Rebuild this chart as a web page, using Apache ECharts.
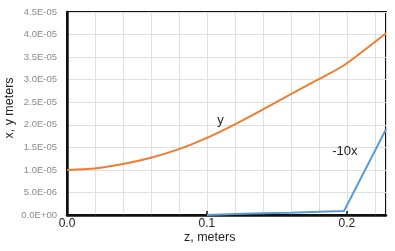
<!DOCTYPE html>
<html><head><meta charset="utf-8">
<script src="https://cdn.jsdelivr.net/npm/echarts@6/dist/echarts.min.js"></script>
<style>html,body{margin:0;padding:0;background:#fff}#c{width:395px;height:251px}</style>
</head><body><div id="c"></div>
<script>
// z positions (meters)
var zValues = [0, 0.02, 0.04, 0.06, 0.08, 0.1, 0.12, 0.14, 0.16, 0.18, 0.198, 0.228];
// y (meters)
var yValues = [1.0e-5, 1.03e-5, 1.13e-5, 1.27e-5, 1.46e-5, 1.71e-5, 2.01e-5, 2.34e-5, 2.68e-5, 3.01e-5, 3.32e-5, 4.03e-5];
// -10x (meters); not drawn before z = 0.1
var negTenX = [null, null, null, null, null, 0, 0.02e-5, 0.04e-5, 0.05e-5, 0.07e-5, 0.09e-5, 1.9e-5];
var xTickLabels = ['0.0', '0.1', '0.2'];
var yName = 'x, y meters';
var xName = 'z, meters';
var curveLabels = [{text: 'y', z: 0.1098, v: 2.1e-5}, {text: '-10x', z: 0.1986, v: 1.42e-5}];

function pairs(xs, ys){ return xs.map(function(x,i){ return [x, ys[i]]; }).filter(function(p){ return p[1] !== null; }); }
function sci(v){
  if (Math.abs(v) < 1e-12) return '0.0E+00';
  var s = v.toExponential(1).split('e');
  var e = parseInt(s[1], 10);
  var sign = e < 0 ? '-' : '+';
  var a = Math.abs(e);
  return s[0] + 'E' + sign + (a < 10 ? '0' + a : a);
}
var font = 'Liberation Sans, Arial, sans-serif';
var chart = echarts.init(document.getElementById('c'), null, {renderer: 'canvas'});
chart.setOption({
  animation: false,
  grid: {left: 67, top: 12, right: 9, bottom: 36, show: true, borderColor: '#111', borderWidth: 2, backgroundColor: 'transparent'},
  xAxis: [{
    type: 'value', min: 0, max: 0.228, interval: 0.02, position: 'bottom',
    axisLine: {show: true, onZero: false, lineStyle: {color: '#111', width: 2.5}},
    axisTick: {show: false},
    axisLabel: {show: false},
    splitLine: {show: true, lineStyle: {color: '#e0e0e0', width: 1}}
  }, {
    type: 'value', min: 0, max: 0.228, interval: 0.1, position: 'bottom', offset: 0,
    axisLine: {show: false},
    axisTick: {show: true, inside: true, length: 4, lineStyle: {color: '#111', width: 1.5}},
    axisLabel: {show: true, margin: 3, fontSize: 12, color: '#222', fontFamily: font, showMaxLabel: false,
      formatter: function(v){ var i = Math.round(v / 0.1); return Math.abs(v - i * 0.1) < 1e-9 ? (xTickLabels[i] || '') : ''; }},
    splitLine: {show: false}
  }],
  yAxis: {
    type: 'value', min: 0, max: 4.5e-5, interval: 5e-6,
    axisLine: {show: true, lineStyle: {color: '#111', width: 2.5}},
    axisTick: {show: false},
    axisLabel: {fontSize: 9.5, color: '#8a8a8a', margin: 10, fontFamily: font, formatter: sci},
    splitLine: {show: true, lineStyle: {color: '#e0e0e0', width: 1}}
  },
  graphic: [
    {type: 'text', left: 184, top: 231, style: {text: xName, fontSize: 12.5, fill: '#222', fontFamily: font}},
    {type: 'text', x: 10, y: 108, rotation: Math.PI / 2, style: {text: yName, fontSize: 12.5, fill: '#222', fontFamily: font, align: 'center', verticalAlign: 'middle'}}
  ],
  series: [{
    type: 'line', xAxisIndex: 0, data: pairs(zValues, yValues), showSymbol: false, symbol: 'none', smooth: 0.25,
    lineStyle: {color: '#ED7D31', width: 2}, z: 3,
    markPoint: {symbol: 'circle', symbolSize: 0, data: curveLabels.map(function(c){
      return {coord: [c.z, c.v], label: {show: true, formatter: c.text, fontSize: 13, color: '#222', fontFamily: font, position: 'inside'}};
    })}
  }, {
    type: 'line', xAxisIndex: 0, data: pairs(zValues, negTenX), showSymbol: false, symbol: 'none',
    lineStyle: {color: '#5B9BD5', width: 2}, z: 4
  }]
});
</script></body></html>
